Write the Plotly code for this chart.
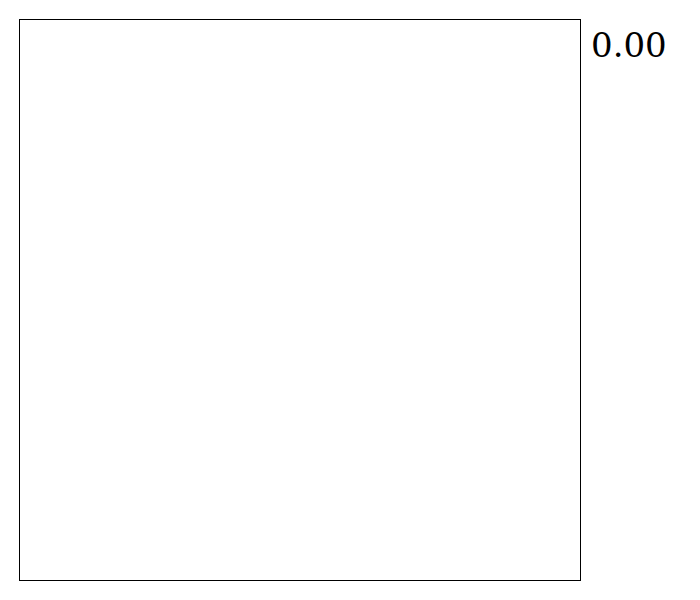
import plotly.graph_objects as go

# empty panel with a single value readout at the top right
x_vals = []
y_vals = []
value = 0.0

fig = go.Figure()
fig.add_trace(go.Scatter(x=x_vals, y=y_vals, mode="markers", showlegend=False))

axis_style = dict(showline=True, linecolor="black", linewidth=1, mirror=True,
                  showgrid=False, zeroline=False, showticklabels=False, ticks="")
fig.update_xaxes(**axis_style)
fig.update_yaxes(**axis_style)

fig.add_annotation(text="{:.2f}".format(value), xref="paper", yref="paper",
                   x=1, y=1, xanchor="left", yanchor="top", xshift=9, yshift=-3,
                   showarrow=False,
                   font=dict(family="DejaVu Serif", size=34, color="black"))

fig.update_layout(width=684, height=584,
                  margin=dict(l=12, r=112, t=12, b=12),
                  paper_bgcolor="white", plot_bgcolor="white")

fig.write_html("out.html")
